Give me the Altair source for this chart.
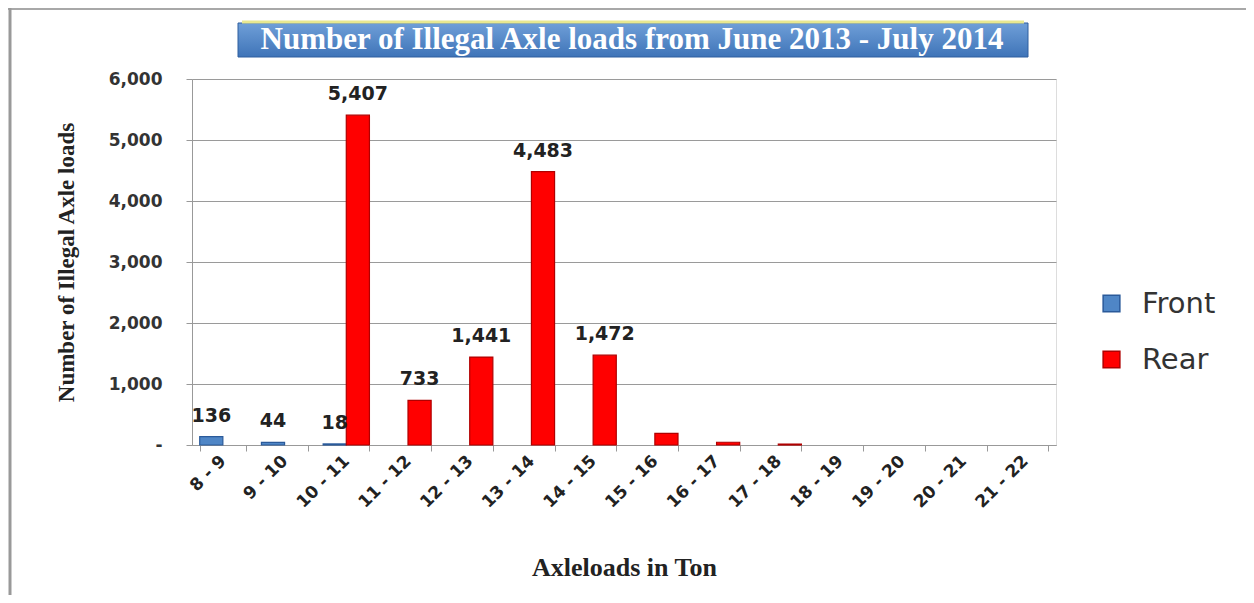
import altair as alt
import pandas as pd

categories = ["8 - 9", "9 - 10", "10 - 11", "11 - 12", "12 - 13", "13 - 14", "14 - 15",
              "15 - 16", "16 - 17", "17 - 18", "18 - 19", "19 - 20", "20 - 21", "21 - 22"]
front = [136, 44, 18, 0, 0, 0, 0, 0, 0, 0, 0, 0, 0, 0]
rear = [0, 0, 5407, 733, 1441, 4483, 1472, 190, 45, 15, 0, 0, 0, 0]
front_labels = [True, True, True, False, False, False, False, False, False, False, False, False, False, False]
rear_labels = [False, False, True, True, True, True, True, False, False, False, False, False, False, False]
series = ["Front", "Rear"]
title_text_value = "Number of Illegal Axle loads from June 2013 - July 2014"

rows = []
for i, c in enumerate(categories):
    rows.append({"cat": c, "series": "Front", "value": front[i], "show": front_labels[i]})
    rows.append({"cat": c, "series": "Rear", "value": rear[i], "show": rear_labels[i]})
df = pd.DataFrame(rows)

W, H = 864, 366
sans = "DejaVu Sans"
serif = "Liberation Serif"

x_scale = alt.Scale(domain=categories, paddingInner=0.25, paddingOuter=0.125)
x_enc = alt.X("cat:N", sort=categories, scale=x_scale,
              axis=alt.Axis(title="Axleloads in Ton", labelAngle=-45, tickBand="extent",
                            labelAlign="right", labelBaseline="middle",
                            labelFont=sans, labelFontWeight="bold", labelFontSize=17,
                            labelColor="#222", titleFont=serif, titleFontWeight="bold",
                            titleFontSize=26, titleColor="#222", titlePadding=44,
                            domainColor="#999", tickColor="#999", tickSize=6, labelPadding=7,
                            grid=False))
y_enc = alt.Y("value:Q", scale=alt.Scale(domain=[0, 6000]),
              axis=alt.Axis(title="Number of Illegal Axle loads", values=[0, 1000, 2000, 3000, 4000, 5000, 6000],
                            labelExpr="datum.value == 0 ? '-' : format(datum.value, ',')",
                            labelFont=sans, labelFontWeight="bold", labelFontSize=17,
                            labelColor="#333", labelPadding=24, titleFont=serif,
                            titleFontWeight="bold", titleFontSize=23, titleColor="#222",
                            titlePadding=30, gridColor="#9a9a9a", gridWidth=1.2,
                            domainColor="#999", tickColor="#999", tickSize=6))
xo = alt.XOffset("series:N", sort=series, scale=alt.Scale(domain=series, paddingInner=0, paddingOuter=0))

bars = alt.Chart(df).transform_filter("datum.value > 0").mark_bar(strokeWidth=1.2).encode(
    x=x_enc, y=y_enc, xOffset=xo,
    color=alt.Color("series:N", sort=series,
                    scale=alt.Scale(domain=series, range=["#4f86c6", "#ff0000"]),
                    legend=alt.Legend(title=None, orient="none", legendX=905, legendY=210,
                                      labelFont=sans, labelFontSize=29, labelColor="#333",
                                      symbolType="square", symbolSize=280, rowPadding=26,
                                      labelOffset=16, symbolStrokeWidth=1.5)),
    stroke=alt.Stroke("series:N", sort=series,
                      scale=alt.Scale(domain=series, range=["#2a5a9a", "#b00000"]),
                      legend=None),
)

labels = alt.Chart(df).transform_filter("datum.show").mark_text(
    baseline="bottom", dy=-11, font=sans, fontWeight="bold", fontSize=19, color="#222"
).encode(x=alt.X("cat:N", sort=categories, scale=x_scale), y="value:Q", xOffset=xo,
         text=alt.Text("value:Q", format=","))

title_df = pd.DataFrame({"t": [title_text_value]})

title_box = alt.Chart(title_df).mark_rect(
    color=alt.Gradient(gradient="linear", x1=0, y1=0, x2=0, y2=1,
                       stops=[alt.GradientStop(color="#6f9fd8", offset=0),
                              alt.GradientStop(color="#3f74b8", offset=1)]),
    stroke="#2f5f9f", strokeWidth=1, clip=False
).encode(x=alt.value(46), x2=alt.value(836), y=alt.value(-56), y2=alt.value(-22))

title_edge = alt.Chart(title_df).mark_rule(color="#e8e890", strokeWidth=3, clip=False).encode(
    x=alt.value(50), x2=alt.value(832), y=alt.value(-57))

title_text = alt.Chart(title_df).mark_text(
    font=serif, fontWeight="bold", fontSize=31, color="white", baseline="middle", align="center", clip=False
).encode(x=alt.value(440), y=alt.value(-39), text="t:N")

frame_top = alt.Chart(title_df).mark_rule(color="#a8a8a8", strokeWidth=2, clip=False).encode(
    x=alt.value(-184), x2=alt.value(1054), y=alt.value(-70))
frame_left = alt.Chart(title_df).mark_rule(color="#999999", strokeWidth=3, clip=False).encode(
    x=alt.value(-182), y=alt.value(-71), y2=alt.value(516))

chart = alt.layer(bars, labels, title_box, title_edge, title_text, frame_top, frame_left).properties(
    width=W, height=H,
    autosize=alt.AutoSizeParams(type="none"),
    padding={"left": 184, "top": 71, "right": 190, "bottom": 150},
).configure_view(fill="#e9e9e9", stroke="#9a9a9a", strokeWidth=1.5
).configure(background="white")

chart.save("out.html", embed_options={"renderer": "svg", "actions": False})
